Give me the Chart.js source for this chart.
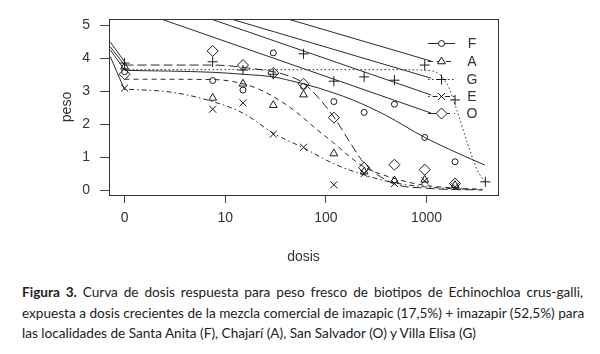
<!DOCTYPE html>
<html>
<head>
<meta charset="utf-8">
<script src="https://cdn.jsdelivr.net/npm/chart.js@4/dist/chart.umd.min.js"></script>
<style>
  body { margin: 0; background: #fff; width: 600px; height: 354px; overflow: hidden; position: relative; }
  #wrap { position: absolute; left: 0; top: 0; width: 600px; height: 270px; }
  #caption { position: absolute; left: 22px; top: 282px; width: 561px; font-family: Lato, sans-serif; font-size: 13.6px; line-height: 20.5px; color: #222; }
  #caption div { text-align: justify; text-align-last: justify; white-space: nowrap; }
  #caption div.last { text-align-last: left; }
</style>
</head>
<body>
<div id="wrap"><canvas id="doseChart" width="600" height="270"></canvas></div>
<div id="caption">
  <div><b>Figura 3.</b> Curva de dosis respuesta para peso fresco de biotipos de Echinochloa crus-galli,</div>
  <div>expuesta a dosis crecientes de la mezcla comercial de imazapic (17,5%) + imazapir (52,5%) para</div>
  <div class="last">las localidades de Santa Anita (F), Chajarí (A), San Salvador (O) y Villa Elisa (G)</div>
</div>
<script>
// observed doses (0 = untreated control)
const doses  = [0, 7.5, 15, 30, 60, 120, 240, 480, 960, 1920];
const dosesG = [0, 7.5, 15, 30, 60, 120, 240, 480, 960, 1920, 3840];

// fresh weight (peso)
const pesoF = [3.6, 3.33, 3.04, 4.17, 3.15, 2.69, 2.36, 2.61, 1.6, 0.86];
const pesoA = [3.75, 2.8, 3.23, 2.58, 2.9, 1.11, 0.56, 0.29, 0.31, 0.15];
const pesoG = [3.86, 3.9, 3.65, 3.52, 4.14, 3.31, 3.44, 3.34, 3.8, 2.74, 0.25];
const pesoE = [3.1, 2.46, 2.65, 1.7, 1.3, 0.16, 0.5, 0.2, 0.28, 0.1];
const pesoO = [3.52, 4.23, 3.8, 3.56, 3.23, 2.2, 0.68, 0.77, 0.62, 0.2];

// fitted curves
const curveDoseF = [0, 7.5, 15, 30, 40, 60, 85, 120, 185, 390, 960, 2050, 3800];
const curveF     = [3.64, 3.58, 3.52, 3.44, 3.36, 3.23, 3.1, 2.95, 2.74, 2.28, 1.6, 1.12, 0.76];
const curveDoseA = [0, 7.5, 18, 30, 48, 83, 120, 175, 240, 470, 930, 1920, 3600];
const curveA     = [3.37, 3.36, 3.16, 2.84, 2.43, 1.82, 1.43, 1.0, 0.7, 0.36, 0.15, 0.06, 0.02];
const curveDoseG = [0, 60, 480, 960, 1300, 1650, 2000, 2550, 3200, 3800];
const curveG     = [3.66, 3.66, 3.66, 3.64, 3.55, 3.14, 2.43, 1.43, 0.6, 0.25];
const curveDoseE = [0, 3, 7.5, 15, 30, 60, 120, 240, 480, 960, 1920, 3600];
const curveE     = [3.07, 2.97, 2.69, 2.34, 1.73, 1.28, 0.8, 0.46, 0.22, 0.1, 0.04, 0.02];
const curveDoseO = [0, 7.5, 18, 40, 60, 83, 120, 175, 240, 470, 960, 3600];
const curveO     = [3.8, 3.8, 3.7, 3.5, 3.25, 2.83, 2.22, 1.43, 0.82, 0.2, 0.06, 0.0];

// straight segments drawn in the original (left of the 0 dose and at the upper right)
const leftSegX  = [0.722, 0];
const leftSegY  = [[4.5, 3.9], [4.35, 3.8], [4.26, 3.65], [4.05, 3.05]];
const diagSegX  = [[41.8, 1112], [11.4, 1112], [7.2, 1112], [2.3, 1112]];
const diagSegY  = [[5.2, 3.92], [5.2, 3.4], [5.2, 2.89], [5.2, 2.34]];

const xTicks = [0, 10, 100, 1000];
const yTicks = [0, 1, 2, 3, 4, 5];
const series = ['F', 'A', 'G', 'E', 'O'];

// on the log axis dose 0 is drawn where dose 1 would be
const ZERO_AT = 1;
const xOf = d => d === 0 ? ZERO_AT : d;
const pts = (xs, ys) => xs.map((d, i) => ({ x: xOf(d), y: ys[i] }));

const ink = '#2b2b2b';
const styles = {
  F: { point: 'circle',   radius: 3,   dash: [] },
  A: { point: 'triangle', radius: 4.5, dash: [5, 4] },
  G: { point: 'cross',    radius: 5,   dash: [1.5, 2.5] },
  E: { point: 'crossRot', radius: 5,   dash: [1.5, 3, 5, 3] },
  O: { point: 'rectRot',  radius: 5.5, dash: [9, 4] }
};
const obs = { F: [doses, pesoF], A: [doses, pesoA], G: [dosesG, pesoG], E: [doses, pesoE], O: [doses, pesoO] };
const fit = { F: [curveDoseF, curveF], A: [curveDoseA, curveA], G: [curveDoseG, curveG], E: [curveDoseE, curveE], O: [curveDoseO, curveO] };

const datasets = [];
series.forEach(s => {
  datasets.push({
    label: s + ' fit',
    data: pts(fit[s][0], fit[s][1]),
    showLine: true,
    borderColor: ink,
    borderWidth: 1,
    borderDash: styles[s].dash,
    pointRadius: 0,
    cubicInterpolationMode: 'monotone'
  });
  datasets.push({
    label: s,
    data: pts(obs[s][0], obs[s][1]),
    showLine: false,
    pointStyle: styles[s].point,
    pointRadius: styles[s].radius,
    pointBorderColor: '#1a1a1a',
    pointBackgroundColor: 'rgba(0,0,0,0)',
    pointBorderWidth: 1
  });
});
leftSegY.forEach(ys => {
  datasets.push({ label: 'seg', data: pts(leftSegX, ys), showLine: true, borderColor: ink, borderWidth: 1, pointRadius: 0 });
});
diagSegX.forEach((xs, i) => {
  datasets.push({ label: 'seg', data: pts(xs, diagSegY[i]), showLine: true, borderColor: ink, borderWidth: 1, pointRadius: 0 });
});

// box round the plot + legend in the upper right, like the R plot
const rPlot = {
  id: 'rPlot',
  afterDatasetsDraw(chart) {
    const { ctx, chartArea: a } = chart;
    ctx.save();
    ctx.strokeStyle = '#333';
    ctx.lineWidth = 1;
    ctx.strokeRect(Math.round(a.left) + 0.5, Math.round(a.top) + 0.5, Math.round(a.right - a.left), Math.round(a.bottom - a.top));

    const legY = [43, 61, 79, 96, 113];
    series.forEach((s, i) => {
      const y = legY[i] + 0.5;
      ctx.strokeStyle = ink;
      ctx.setLineDash(styles[s].dash);
      ctx.beginPath();
      ctx.moveTo(428, y);
      ctx.lineTo(455, y);
      ctx.stroke();
      ctx.setLineDash([]);
      ctx.fillStyle = '#fff';
      ctx.strokeStyle = '#1a1a1a';
      Chart.helpers.drawPoint(ctx, { pointStyle: styles[s].point, radius: styles[s].radius, borderWidth: 1 }, 441.5, y);
      ctx.fillStyle = '#333';
      ctx.font = '14px "Liberation Sans", Arial, sans-serif';
      ctx.textBaseline = 'middle';
      ctx.textAlign = 'center';
      ctx.fillText(s, 472, y + 1);
    });
    ctx.restore();
  }
};

new Chart(document.getElementById('doseChart'), {
  type: 'scatter',
  data: { datasets },
  options: {
    responsive: false,
    animation: false,
    layout: { padding: { left: 0, top: 19, right: 102, bottom: 0 } },
    plugins: { legend: { display: false }, tooltip: { enabled: false } },
    scales: {
      x: {
        type: 'logarithmic',
        min: 0.722,
        max: 5130,
        afterBuildTicks: sc => { sc.ticks = xTicks.map(v => ({ value: xOf(v) })); },
        afterFit: sc => { sc.height = 75; },
        ticks: {
          color: '#333',
          font: { family: '"Liberation Sans", Arial, sans-serif', size: 14 },
          padding: 7,
          maxRotation: 0,
          callback: (v, i) => String(xTicks[i])
        },
        grid: { drawOnChartArea: false, drawTicks: true, tickLength: 8, color: '#444' },
        border: { display: false },
        title: {
          display: true, text: 'dosis', color: '#333',
          font: { family: '"Liberation Sans", Arial, sans-serif', size: 14 },
          padding: { top: 0, bottom: 4.6 }
        }
      },
      y: {
        min: -0.15,
        max: 5.2,
        afterBuildTicks: sc => { sc.ticks = yTicks.map(v => ({ value: v })); },
        afterFit: sc => { sc.width = 109; },
        ticks: {
          color: '#333',
          font: { family: '"Liberation Sans", Arial, sans-serif', size: 14 },
          padding: 10
        },
        grid: { drawOnChartArea: false, drawTicks: true, tickLength: 9, color: '#444' },
        border: { display: false },
        title: {
          display: true, text: 'peso', color: '#333',
          font: { family: '"Liberation Sans", Arial, sans-serif', size: 14 },
          padding: { top: 58.6, bottom: 0 }
        }
      }
    }
  },
  plugins: [rPlot]
});
</script>
</body>
</html>
